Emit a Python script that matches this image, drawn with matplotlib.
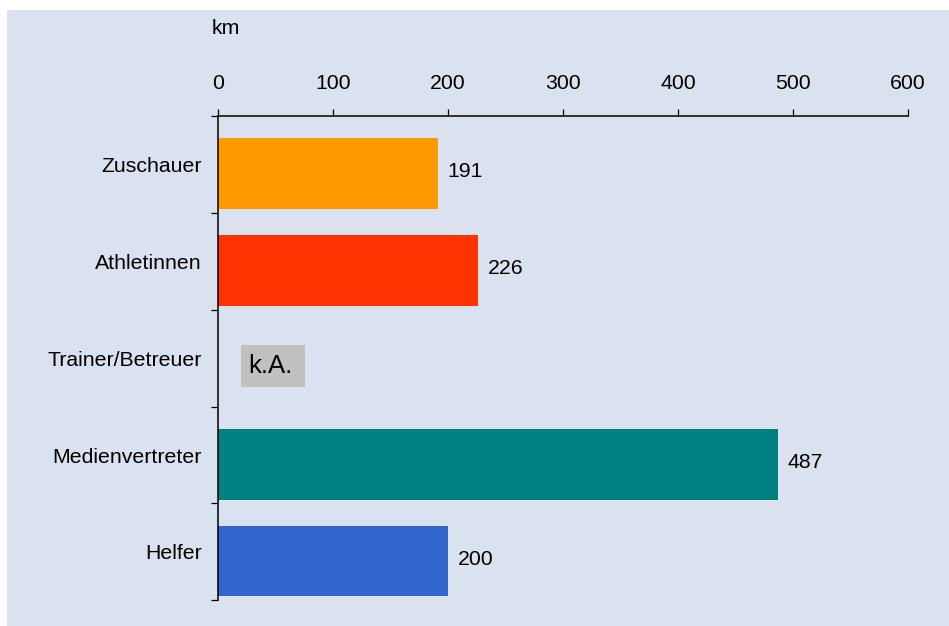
import matplotlib
matplotlib.use("Agg")
import matplotlib.pyplot as plt
from matplotlib.patches import Rectangle

plt.rcParams['font.family'] = ['Liberation Sans', 'DejaVu Sans']

categories = ["Zuschauer", "Athletinnen", "Trainer/Betreuer", "Medienvertreter", "Helfer"]
values = [191, 226, None, 487, 200]
colors = ["#FF9900", "#FF3300", "#C0C0C0", "#008080", "#3366CC"]
xticks = [0, 100, 200, 300, 400, 500, 600]
missing_label = "k.A."
unit_label = "km"

BG = "#D9E2EE"
FS = 15.3
W, H = 949, 626
fig = plt.figure(figsize=(W / 100, H / 100), dpi=100)
fig.patch.set_facecolor("white")
fig.patches.append(Rectangle((7 / W, 0), 1 - 7 / W, 1 - 10 / H, transform=fig.transFigure,
                             facecolor=BG, edgecolor="none", zorder=-10))

ax = fig.add_axes([218 / W, 1 - 600.3 / H, 690 / W, 484.3 / H])
ax.set_facecolor(BG)
ax.patch.set_alpha(0)

n = len(categories)
ypos = list(range(n))
shift = 0.095
for i, (v, c) in enumerate(zip(values, colors)):
    if v is None:
        ax.add_patch(Rectangle((20, i - 0.135), 55.5, 0.435, facecolor=c, edgecolor="none"))
        ax.text(26, i + 0.085, missing_label, fontsize=18.5, ha="left", va="center")
    else:
        ax.barh(i + shift, v, height=0.73, color=c, edgecolor="none")
        ax.text(v + 8.5, i + shift - 0.02, str(v), fontsize=FS, ha="left", va="center")

ax.set_xlim(0, 600)
ax.set_ylim(n - 0.5, -0.5)
ax.xaxis.tick_top()
ax.set_xticks(xticks)
ax.set_xticklabels([str(t) for t in xticks], fontsize=FS)
ax.tick_params(axis="x", direction="out", length=5, width=0.9, pad=11.5, color="black")

ax.set_yticks([i + 0.5 for i in range(-1, n)])
ax.set_yticklabels([])
ax.set_yticks(ypos, minor=True)
ax.set_yticklabels(categories, minor=True, fontsize=FS)
ax.tick_params(axis="y", which="major", direction="out", length=5, width=0.9)
ax.tick_params(axis="y", which="minor", length=0, pad=11.5)

for s in ["right", "bottom"]:
    ax.spines[s].set_visible(False)
for s in ["top", "left"]:
    ax.spines[s].set_linewidth(1.1)

fig.text(212 / W, 1 - 29 / H, unit_label, fontsize=FS, ha="left", va="center")

fig.savefig("out.png", dpi=100, facecolor=fig.get_facecolor())
